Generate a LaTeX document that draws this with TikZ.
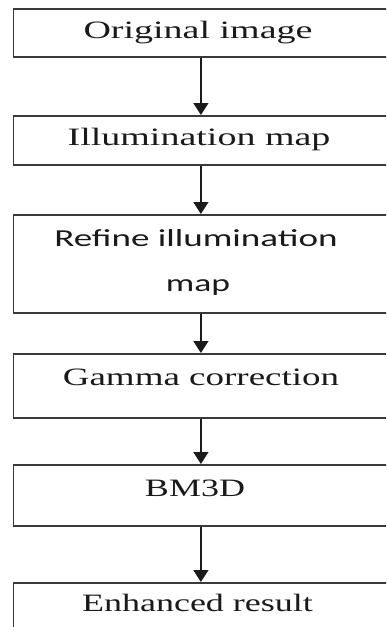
\documentclass[tikz,border=0pt]{standalone}
\usepackage{fontspec}
\setmainfont{Liberation Serif}
\newfontfamily\labelsans{Carlito}
\usetikzlibrary{arrows.meta}
\definecolor{edgegray}{HTML}{3A3A3A}
\definecolor{inkblack}{HTML}{1A1A1A}
\newcommand\widetext[2]{\scalebox{#1}[1]{#2}}
\begin{document}
\begin{tikzpicture}[x=1pt,y=-1pt,
  stagebox/.style={draw=edgegray, line width=1.8pt, inner sep=0pt,
    minimum width=375pt, anchor=north west, fill=white},
  lbl/.style={anchor=base, inner sep=0pt, text=inkblack,
    font=\fontsize{25}{30}\selectfont},
  flow/.style={draw=inkblack, line width=1.4pt,
    -{Triangle[width=15pt,length=12pt]}}
]
\useasboundingbox (0,0) rectangle (386,627);
\clip (0,0) rectangle (386,627);

% process stages
\node[stagebox, minimum height=48pt] (b1) at (12.5,8) {};
\node[stagebox, minimum height=49pt] (b2) at (12.5,115) {};
\node[stagebox, minimum height=98pt] (b3) at (12.5,214) {};
\node[stagebox, minimum height=64pt] (b4) at (12.5,353) {};
\node[stagebox, minimum height=61pt] (b5) at (12.5,464) {};
\node[stagebox, minimum height=70pt] (b6) at (12.5,582) {};

% stage labels
\node[lbl] (t1) at (198,38) {\widetext{1.52}{Original image}};
\node[lbl] (t2) at (199,145.5) {\widetext{1.52}{Illumination map}};
\node[lbl, font=\labelsans\fontsize{24.4}{30}\selectfont] (t3a) at (196,246.5) {\widetext{1.52}{Refine illumination}};
\node[lbl, font=\labelsans\fontsize{24.4}{30}\selectfont] (t3b) at (198,291.5) {\widetext{1.46}{map}};
\node[lbl] (t4) at (201,385) {\widetext{1.48}{Gamma correction}};
\node[lbl] (t5) at (195,496) {\widetext{1.44}{BM3D}};
\node[lbl] (t6) at (197.5,611.5) {\widetext{1.44}{Enhanced result}};

% connectors
\draw[flow] (b1.south) -- (b2.north);
\draw[flow] (b2.south) -- (b3.north);
\draw[flow] (b3.south) -- (b4.north);
\draw[flow] (b4.south) -- (b5.north);
\draw[flow] (b5.south) -- (b6.north);
\end{tikzpicture}
\end{document}
